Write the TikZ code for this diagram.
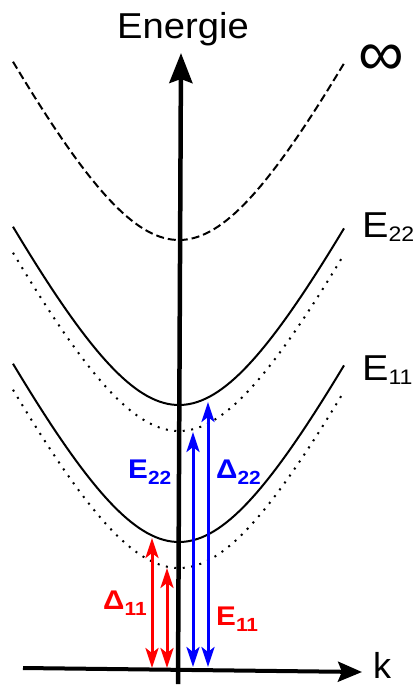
\documentclass[tikz,border=0pt]{standalone}
\usepackage{fontspec}
\setmainfont{Liberation Sans}
\usetikzlibrary{arrows.meta}
\definecolor{gapred}{RGB}{255,0,0}
\definecolor{gapblue}{RGB}{0,0,255}
\newcommand{\bigtext}{\fontsize{36}{40}\selectfont}
\newcommand{\gaptext}{\fontsize{27}{30}\selectfont\bfseries}
% main letter, index, index size, drop
\newcommand{\sublab}[4]{\scalebox{1.1}[1]{#1\raisebox{-#4}{\fontsize{#3}{#3}\selectfont #2}}}
\tikzset{
  eaxis/.style={line width=4.5pt,-{Stealth[length=30pt,width=23pt,inset=4pt]}},
  kaxis/.style={line width=4pt,-{Stealth[length=24pt,width=20pt,inset=4pt]}},
  level/.style={line width=2pt},
  limitlevel/.style={level,dash pattern=on 8pt off 4pt},
  exclevel/.style={level,dash pattern=on 2pt off 6.5pt},
  transition/.style={line width=3pt,{Stealth[length=20pt,width=13pt,inset=5pt]}-{Stealth[length=20pt,width=13pt,inset=5pt]}},
  bandlabel/.style={anchor=base west,inner sep=0pt}
}

\begin{document}
\begin{tikzpicture}[x=1pt,y=-1pt,
    declare function={band(\x)=100*(sqrt(4.84+4*(\x/100)^2)-2.2);}]
  \useasboundingbox (0,0) rectangle (418,686);

  % bands
  \draw[limitlevel] plot[domain=-166:165,samples=80] ({179+\x},{240-band(\x)});
  \draw[level] plot[domain=-166:165,samples=80] ({179+\x},{405-band(\x)});
  \draw[exclevel] plot[domain=-166:165,samples=80] ({179+\x},{431-band(\x)});
  \draw[level] plot[domain=-166:165,samples=80] ({179+\x},{542-band(\x)});
  \draw[exclevel] plot[domain=-166:165,samples=80] ({179+\x},{568-band(\x)});

  % axes
  \coordinate (k0) at (23,668);
  \coordinate (k1) at (362,672);
  \coordinate (e0) at (178,684);
  \coordinate (e1) at (181,53);
  \draw[kaxis] (k0) -- (k1);
  \draw[eaxis] (e0) -- (e1);
  \node[anchor=base,inner sep=0pt] (energie) at (183,38) {\bigtext\scalebox{1.06}[1]{Energie}};
  \node[anchor=base west,inner sep=0pt] (k) at (373,678) {\bigtext k};

  % transitions
  \coordinate (d11b) at (152,668);
  \coordinate (d11t) at (152,538);
  \coordinate (e11b) at (167,668);
  \coordinate (e11t) at (167,568);
  \coordinate (e22b) at (193,667);
  \coordinate (e22t) at (193,432);
  \coordinate (d22b) at (208,667);
  \coordinate (d22t) at (208,402);
  \draw[transition,gapred] (d11b) -- (d11t);
  \draw[transition,gapred] (e11b) -- (e11t);
  \draw[transition,gapblue] (e22b) -- (e22t);
  \draw[transition,gapblue] (d22b) -- (d22t);

  % labels
  \node[inner sep=0pt] (inf) at (381,60) {\fontsize{64}{64}\selectfont ∞};
  \node[bandlabel] (lE22) at (362,237) {\bigtext\sublab{E}{22}{21}{4pt}};
  \node[bandlabel] (lE11) at (362,380) {\bigtext\sublab{E}{11}{21}{4pt}};
  \node[bandlabel,text=gapblue] (gE22) at (128,478) {\gaptext\sublab{E}{22}{19}{6pt}};
  \node[bandlabel,text=gapblue] (gD22) at (216,478) {\gaptext\sublab{Δ}{22}{19}{6pt}};
  \node[bandlabel,text=gapred] (gD11) at (103,609) {\gaptext\sublab{Δ}{11}{19}{6pt}};
  \node[bandlabel,text=gapred] (gE11) at (216,625) {\gaptext\sublab{E}{11}{19}{6pt}};
\end{tikzpicture}
\end{document}
